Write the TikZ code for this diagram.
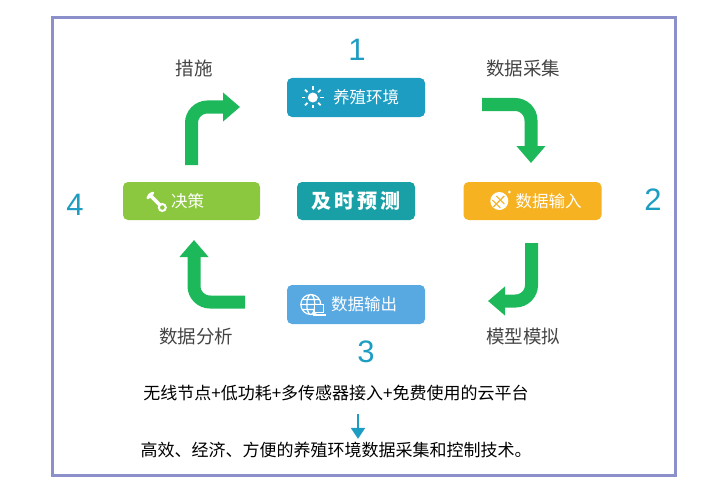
\documentclass[tikz,border=0pt]{standalone}
\usepackage{fontspec}
\usepackage{xcolor}
\usepackage{tikz}
\usetikzlibrary{positioning,arrows.meta,calc}

\newfontfamily\cjk{Noto Sans CJK SC}
\newfontfamily\numfont{Liberation Sans}

\definecolor{frameblue}{HTML}{8C90CA}
\definecolor{envblue}{HTML}{1E9DC2}
\definecolor{predteal}{HTML}{18A0A6}
\definecolor{decgreen}{HTML}{8CC83F}
\definecolor{inorange}{HTML}{F6B221}
\definecolor{outblue}{HTML}{58A9E2}
\definecolor{flowgreen}{HTML}{1DB85A}
\definecolor{numcyan}{HTML}{1E9DC2}
\definecolor{labelgray}{HTML}{444444}

\begin{document}
\begin{tikzpicture}[
  x=1pt, y=-1pt,
  stage/.style={rectangle, rounded corners=5pt, minimum width=138pt,
                minimum height=39pt, inner sep=0pt},
  stagetext/.style={anchor=west, inner sep=0pt, text=white,
                    font=\cjk\fontsize{16.5}{16.5}\selectfont},
  num/.style={inner sep=0pt, text=numcyan, font=\numfont\fontsize{31}{31}\selectfont},
  phase/.style={inner sep=0pt, text=labelgray, font=\cjk\fontsize{18.5}{18.5}\selectfont},
  note/.style={inner sep=0pt, text=black, font=\cjk\fontsize{17}{17}\selectfont},
  flow/.style={line width=13pt, color=flowgreen, rounded corners=16pt,
               -{Triangle[length=17pt 0, width=28pt 0]}},
  down/.style={line width=2pt, color=numcyan, -{Triangle[length=11pt 0, width=14pt 0]}}
]

\useasboundingbox (0,0) rectangle (727,500);
\draw[frameblue, line width=3pt] (52,18) rectangle (675,475);

% stages
\node[stage, fill=envblue] (env) at (356,97.5) {};
\node[stage, fill=decgreen, minimum width=137pt, minimum height=38pt] (dec) at (191.5,201) {};
\node[stage, fill=predteal, minimum width=118pt, minimum height=38pt] (pred) at (356,201) {};
\node[stage, fill=inorange, minimum height=38pt] (inp) at (532.5,201) {};
\node[stage, fill=outblue] (outp) at (356,304.5) {};

\node[stagetext] (envt) at ([xshift=46pt]env.west) {养殖环境};
\node[stagetext] (dect) at ([xshift=48pt]dec.west) {决策};
\node[stagetext] (inpt) at ([xshift=52pt]inp.west) {数据输入};
\node[stagetext] (outpt) at ([xshift=44pt]outp.west) {数据输出};
\node[inner sep=0pt, text=white, font=\cjk\bfseries\fontsize{20}{20}\selectfont] (predt)
  at (pred) {及\kern3pt 时\kern3pt 预\kern3pt 测};

% icons
\coordinate (sun) at ([xshift=26pt]env.west);
\fill[white] (sun) circle (5);
\foreach \a in {0,45,...,315}
  \draw[white, line width=1.8pt] ($(sun)+(\a:7.5)$) -- ($(sun)+(\a:11)$);

\coordinate (leaf) at ([xshift=36pt]inp.west);
\fill[white] (leaf) circle (9);
\fill[white] ($(leaf)+(10,-9)$) circle (1.5);
\draw[inorange, line width=1.2pt] ($(leaf)+(-6,6)$) -- ($(leaf)+(5,-5)$);
\foreach \d in {-3,1}
  \draw[inorange, line width=1pt] ($(leaf)+(\d,-\d)$) -- ++(-4,-4) ($(leaf)+(\d,-\d)$) -- ++(4,4);

\coordinate (globe) at ([xshift=24pt]outp.west);
\draw[white, line width=1.2pt] (globe) circle (10) (globe) ellipse (4 and 10)
  ($(globe)+(-10,0)$) -- ($(globe)+(10,0)$)
  ($(globe)+(-8.7,-5)$) -- ($(globe)+(8.7,-5)$)
  ($(globe)+(-8.7,5)$) -- ($(globe)+(8.7,5)$);
\draw[white, fill=outblue, line width=1.2pt] ($(globe)+(4,0)$) rectangle ($(globe)+(13,8)$);
\fill[white] ($(globe)+(2,9)$) rectangle ($(globe)+(15,11)$);

\coordinate (wrench) at ([xshift=33pt]dec.west);
\draw[white, line width=3.5pt, line cap=round] ($(wrench)+(-6,-6)$) -- ($(wrench)+(4,4)$);
\draw[white, line width=2pt] ($(wrench)+(6.5,6.5)$) circle (3.5);
\draw[white, line width=3pt, line cap=round] ($(wrench)+(-8,-3)$) -- ($(wrench)+(-6,-6)$) -- ($(wrench)+(-3,-8)$);

% numbers and labels
\node[num] (n1) at (357,50) {1};
\node[num] (n2) at (653,200) {2};
\node[num] (n3) at (366,352) {3};
\node[num] (n4) at (75,205) {4};

\node[phase] (act) at (194,68) {措施};
\node[phase] (collect) at (523,68) {数据采集};
\node[phase] (analyse) at (196,336) {数据分析};
\node[phase] (model) at (523,336) {模型模拟};

% green flow arrows
\coordinate (a1s) at (191.5,165); \coordinate (a1m) at (191.5,107); \coordinate (a1e) at (240,107);
\coordinate (a2s) at (482,104.5); \coordinate (a2m) at (531,104.5); \coordinate (a2e) at (531,163);
\coordinate (a3s) at (531.5,243); \coordinate (a3m) at (531.5,301); \coordinate (a3e) at (488,301);
\coordinate (a4s) at (245,302);   \coordinate (a4m) at (194,302);   \coordinate (a4e) at (194,240);

\foreach \s/\m/\e in {a1s/a1m/a1e, a2s/a2m/a2e, a3s/a3m/a3e, a4s/a4m/a4e} {
  \draw[flow] (\s) -- (\m) -- (\e);
}

% summary
\node[note] (feat) at (336,393) {无线节点+低功耗+多传感器接入+免费使用的云平台};
\node[note] (tech) at (336,450) {高效、经济、方便的养殖环境数据采集和控制技术。};
\coordinate (ds) at (358,414);
\draw[down] (ds) -- ([yshift=3pt]tech.north -| ds);

\end{tikzpicture}
\end{document}
